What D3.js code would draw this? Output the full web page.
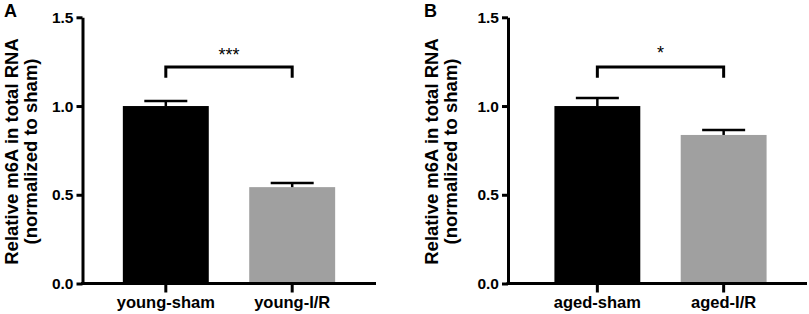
<!DOCTYPE html>
<html>
<head>
<meta charset="utf-8">
<script src="https://cdn.jsdelivr.net/npm/d3@7"></script>
<style>
  body { margin: 0; background: #fff; }
  svg { display: block; font-family: "Liberation Sans", Arial, sans-serif; }
</style>
</head>
<body>
<script>
// data
var groupsA = ["young-sham", "young-I/R"];
var meansA = [1.0, 0.543];
var semA = [0.028, 0.024];
var starsA = "***";

var groupsB = ["aged-sham", "aged-I/R"];
var meansB = [1.0, 0.837];
var semB = [0.045, 0.028];
var starsB = "*";

var yTicks = [0, 0.5, 1.0, 1.5];
var barColors = ["#000000", "#a0a0a0"];
var yTitle = ["Relative m6A in total RNA", "(normalized to sham)"];

var svg = d3.select("body").append("svg")
    .attr("width", 809)
    .attr("height", 314);

// shared y scale, same for both panels
var y = d3.scaleLinear()
    .domain([0, 1.5])
    .range([283.5, 17.3]);

function panel(opt) {
  var g = svg.append("g");

  var x = d3.scaleBand()
      .domain(opt.groups)
      .range(opt.range)
      .paddingInner(0.32)
      .paddingOuter(0.32);

  // bars
  g.selectAll(".bar")
      .data(opt.means)
    .enter().append("rect")
      .attr("x", function(d, i) { return x(opt.groups[i]); })
      .attr("width", x.bandwidth())
      .attr("y", function(d) { return y(d); })
      .attr("height", function(d) { return y(0) - y(d); })
      .attr("fill", function(d, i) { return barColors[i]; });

  // error bars (upper only)
  opt.means.forEach(function(m, i) {
    var cx = x(opt.groups[i]) + x.bandwidth() / 2;
    var top = y(m + opt.sem[i]);
    g.append("line")
      .attr("x1", cx).attr("x2", cx)
      .attr("y1", y(m)).attr("y2", top)
      .attr("stroke", "#000").attr("stroke-width", 2.5);
    g.append("line")
      .attr("x1", cx - 21.5).attr("x2", cx + 21.5)
      .attr("y1", top).attr("y2", top)
      .attr("stroke", "#000").attr("stroke-width", 2.5);
  });

  // y axis
  var yAxis = g.append("g")
      .attr("transform", "translate(" + opt.axisX + ",0)")
      .call(d3.axisLeft(y).tickValues(yTicks).tickFormat(d3.format(".1f"))
        .tickSize(6).tickSizeOuter(0).tickPadding(3));
  yAxis.select(".domain").attr("stroke-width", 3);
  yAxis.selectAll(".tick line").attr("stroke-width", 3);
  yAxis.selectAll(".tick text")
      .style("font-size", "15.5px").style("font-weight", "bold").attr("fill", "#000");

  // x axis
  var xAxis = g.append("g")
      .attr("transform", "translate(0," + y(0) + ")")
      .call(d3.axisBottom(x).tickSize(9).tickSizeOuter(0).tickPadding(4));
  xAxis.select(".domain").remove();
  xAxis.selectAll(".tick line").attr("stroke-width", 3);
  xAxis.selectAll(".tick text")
      .style("font-size", "16.5px").style("font-weight", "bold").attr("fill", "#000");
  g.append("line")
      .attr("x1", opt.axisX - 1.5).attr("x2", opt.axisEnd)
      .attr("y1", y(0)).attr("y2", y(0))
      .attr("stroke", "#000").attr("stroke-width", 3);

  // significance bracket
  var c0 = x(opt.groups[0]) + x.bandwidth() / 2;
  var c1 = x(opt.groups[1]) + x.bandwidth() / 2;
  g.append("path")
      .attr("d", "M" + c0 + "," + y(1.16) + "V" + y(1.22) + "H" + c1 + "V" + y(1.16))
      .attr("fill", "none").attr("stroke", "#000").attr("stroke-width", 3);
  g.append("text")
      .attr("x", (c0 + c1) / 2)
      .attr("y", opt.starY)
      .attr("text-anchor", "middle")
      .style("font-size", "18px")
      .text(opt.stars);

  // y title
  yTitle.forEach(function(t, i) {
    g.append("text")
      .attr("transform", "translate(" + (opt.titleX + i * 19.5) + ",151.5) rotate(-90)")
      .attr("text-anchor", "middle")
      .style("font-size", "18.5px").style("font-weight", "bold")
      .text(t);
  });

  // panel letter
  g.append("text")
      .attr("x", opt.letterX).attr("y", 17)
      .style("font-size", "18px").style("font-weight", "bold")
      .text(opt.letter);
}

panel({ groups: groupsA, means: meansA, sem: semA, stars: starsA,
        range: [82.4, 375.6], axisX: 82.5, axisEnd: 376,
        titleX: 17.5, letterX: 4, letter: "A", starY: 60.5 });
panel({ groups: groupsB, means: meansB, sem: semB, stars: starsB,
        range: [514, 807], axisX: 508, axisEnd: 807,
        titleX: 437.5, letterX: 424, letter: "B", starY: 58.5 });
</script>
</body>
</html>
